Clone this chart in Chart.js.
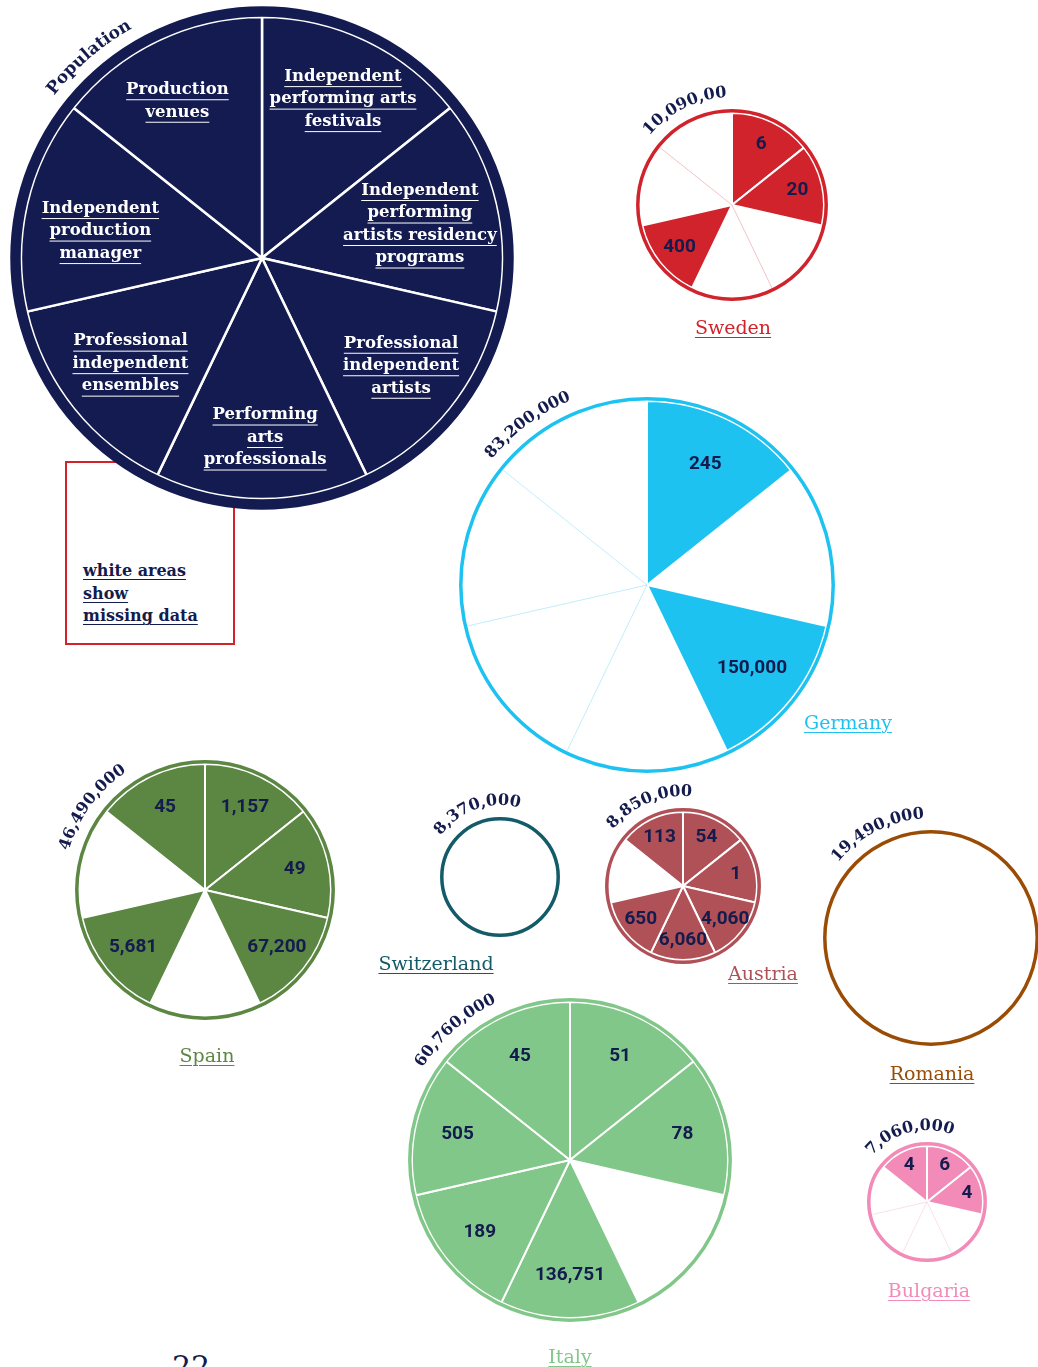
<!DOCTYPE html>
<html>
<head>
<meta charset="utf-8">
<script src="https://cdn.jsdelivr.net/npm/chart.js@4/dist/chart.umd.min.js"></script>
<style>
  html, body { margin: 0; padding: 0; background: #fff; }
  body { position: relative; width: 1038px; height: 1367px; overflow: hidden; font-family: "DejaVu Serif", serif; }
  canvas { position: absolute; }
  .name { position: absolute; transform: translate(-50%, -50%); font-size: 19px; text-decoration: underline; text-underline-offset: 3px; text-decoration-thickness: 1px; white-space: nowrap; }
  .note { position: absolute; left: 65px; top: 461px; width: 166px; height: 180px; border: 2px solid #d2232b; }
  .note div { position: absolute; left: 16px; top: 97px; font-weight: bold; font-size: 16px; line-height: 22.5px; color: #141b4d; text-decoration: underline; text-underline-offset: 3px; }
  .page { position: absolute; left: 172px; top: 1349px; font-size: 30px; color: #141b4d; }
</style>
</head>
<body>
<div class="note"><div>white areas<br>show<br>missing data</div></div>
<div class="page">22</div>

<script>
// categories, clockwise from the top
const categories = [
  'Independent performing arts festivals',
  'Independent performing artists residency programs',
  'Professional independent artists',
  'Performing arts professionals',
  'Professional independent ensembles',
  'Independent production manager',
  'Production venues'
];
const categoryLines = [
  ['Independent', 'performing arts', 'festivals'],
  ['Independent', 'performing', 'artists residency', 'programs'],
  ['Professional', 'independent', 'artists'],
  ['Performing', 'arts', 'professionals'],
  ['Professional', 'independent', 'ensembles'],
  ['Independent', 'production', 'manager'],
  ['Production', 'venues']
];

const countries = ['Sweden', 'Germany', 'Spain', 'Switzerland', 'Austria', 'Romania', 'Italy', 'Bulgaria'];
const populations = ['10,090,00', '83,200,000', '46,490,000', '8,370,000', '8,850,000', '19,490,000', '60,760,000', '7,060,000'];

// null = missing data (white slice)
const sweden      = [6, 20, null, null, 400, null, null];
const germany     = [245, null, 150000, null, null, null, null];
const spain       = [1157, 49, 67200, null, 5681, null, 45];
const switzerland = [null, null, null, null, null, null, null];
const austria     = [54, 1, 4060, 6060, 650, null, 113];
const romania     = [null, null, null, null, null, null, null];
const italy       = [51, 78, null, 136751, 189, 505, 45];
const bulgaria    = [6, 4, null, null, null, null, 4];
const values = [sweden, germany, spain, switzerland, austria, romania, italy, bulgaria];

const colors = ['#d1232b', '#1dc2f1', '#5b8742', '#135b69', '#b05057', '#9a4c05', '#82c78a', '#f28bb8'];

// layout: centre, ring radius, start angle of the population text, name position
const layout = [
  { cx: 732, cy: 205, r: 96,  start: -50, nx: 733, ny: 327 },
  { cx: 647, cy: 585, r: 188, start: -51, nx: 848, ny: 722 },
  { cx: 205, cy: 890, r: 130, start: -74, nx: 207, ny: 1055 },
  { cx: 500, cy: 877, r: 60,  start: -55, nx: 436, ny: 963 },
  { cx: 683, cy: 886, r: 78,  start: -51, nx: 763, ny: 973 },
  { cx: 931, cy: 938, r: 108, start: -51, nx: 932, ny: 1073 },
  { cx: 570, cy: 1160, r: 162, start: -58, nx: 570, ny: 1356 },
  { cx: 927, cy: 1202, r: 60, start: -50, nx: 929, ny: 1290 }
];
// legend captions: radius factor and angle nudge (degrees) from the slice middle
const captionRadius = [0.74, 0.67, 0.73, 0.745, 0.70, 0.68, 0.74];
const captionNudge = [1.3, 0.8, -0.8, -1, -0.2, -3.4, -2.6];

const NAVY = '#141b4d';
const PIE_NAVY = '#131b50';
const sliceWeight = categories.map(() => 1);

function hexAlpha(hex, a) {
  const n = parseInt(hex.slice(1), 16);
  return `rgba(${n >> 16},${(n >> 8) & 255},${n & 255},${a})`;
}

// text along a circle, angle in degrees from the top, clockwise
function drawArcText(ctx, text, cx, cy, radius, startDeg) {
  let a = startDeg * Math.PI / 180;
  ctx.textAlign = 'center';
  ctx.textBaseline = 'alphabetic';
  for (const ch of text) {
    const w = ctx.measureText(ch).width;
    const mid = a + (w / 2) / radius;
    ctx.save();
    ctx.translate(cx + radius * Math.sin(mid), cy - radius * Math.cos(mid));
    ctx.rotate(mid);
    ctx.fillText(ch, 0, 0);
    ctx.restore();
    a += w / radius;
  }
}

function makeCanvas(cx, cy, half) {
  const c = document.createElement('canvas');
  c.width = half * 2;
  c.height = half * 2;
  c.style.left = (cx - half) + 'px';
  c.style.top = (cy - half) + 'px';
  document.body.appendChild(c);
  return c;
}

const baseOptions = {
  responsive: false,
  animation: false,
  events: [],
  plugins: { legend: { display: false }, tooltip: { enabled: false } }
};

// ---- legend pie ----
const legendCanvas = makeCanvas(262, 258, 300);
new Chart(legendCanvas.getContext('2d'), {
  type: 'pie',
  data: {
    labels: categories,
    datasets: [{
      data: sliceWeight,
      backgroundColor: PIE_NAVY,
      borderColor: '#fff',
      borderWidth: 2.5
    }]
  },
  options: { ...baseOptions, radius: 241 },
  plugins: [{
    id: 'legendDecor',
    afterDatasetsDraw(chart) {
      const ctx = chart.ctx;
      const arcs = chart.getDatasetMeta(0).data;
      const { x, y, outerRadius } = arcs[0];
      ctx.save();
      ctx.strokeStyle = PIE_NAVY;
      ctx.lineWidth = 10.5;
      ctx.beginPath();
      ctx.arc(x, y, outerRadius + 5.5, 0, Math.PI * 2);
      ctx.stroke();

      ctx.font = 'bold 16.5px "DejaVu Serif"';
      ctx.fillStyle = '#fff';
      ctx.strokeStyle = '#fff';
      ctx.lineWidth = 1;
      arcs.forEach((arc, i) => {
        const mid = (arc.startAngle + arc.endAngle) / 2 + captionNudge[i] * Math.PI / 180;
        const px = x + Math.cos(mid) * outerRadius * captionRadius[i];
        const py = y + Math.sin(mid) * outerRadius * captionRadius[i];
        const lines = categoryLines[i];
        const lh = 22.5;
        const top = py - (lines.length - 1) * lh / 2;
        ctx.textAlign = 'center';
        ctx.textBaseline = 'middle';
        lines.forEach((ln, j) => {
          const ly = top + j * lh;
          ctx.fillText(ln, px, ly);
          const w = ctx.measureText(ln).width;
          ctx.beginPath();
          ctx.moveTo(px - w / 2, ly + 10);
          ctx.lineTo(px + w / 2, ly + 10);
          ctx.stroke();
        });
      });

      ctx.fillStyle = NAVY;
      ctx.font = 'bold 17px "DejaVu Serif"';
      drawArcText(ctx, 'Population', x, y, outerRadius + 23, -52);
      ctx.restore();
    }
  }]
});

// ---- country pies ----
countries.forEach((country, k) => {
  const L = layout[k];
  const col = colors[k];
  const vals = values[k];
  const canvas = makeCanvas(L.cx, L.cy, L.r + 45);

  new Chart(canvas.getContext('2d'), {
    type: 'pie',
    data: {
      labels: categories,
      datasets: [{
        data: sliceWeight,
        backgroundColor: vals.map(v => v == null ? '#fff' : col),
        borderColor: '#fff',
        borderWidth: vals.map(v => v == null ? 0 : 2)
      }]
    },
    options: { ...baseOptions, radius: L.r - 4 },
    plugins: [{
      id: 'countryDecor',
      afterDatasetsDraw(chart) {
        const ctx = chart.ctx;
        const arcs = chart.getDatasetMeta(0).data;
        const { x, y, outerRadius } = arcs[0];
        ctx.save();

        // faint spokes between two missing slices
        const allMissing = vals.every(v => v == null);
        if (!allMissing) {
          ctx.strokeStyle = hexAlpha(col, 0.35);
          ctx.lineWidth = 0.8;
          arcs.forEach((arc, i) => {
            const prev = (i + vals.length - 1) % vals.length;
            if (vals[i] == null && vals[prev] == null) {
              ctx.beginPath();
              ctx.moveTo(x, y);
              ctx.lineTo(x + Math.cos(arc.startAngle) * outerRadius, y + Math.sin(arc.startAngle) * outerRadius);
              ctx.stroke();
            }
          });
        }

        // outline ring
        ctx.strokeStyle = col;
        ctx.lineWidth = 3.5;
        ctx.beginPath();
        ctx.arc(x, y, outerRadius + 2.2, 0, Math.PI * 2);
        ctx.stroke();

        // slice values
        ctx.font = 'bold 19px Roboto';
        ctx.fillStyle = NAVY;
        ctx.textAlign = 'center';
        ctx.textBaseline = 'middle';
        arcs.forEach((arc, i) => {
          if (vals[i] == null) return;
          const mid = (arc.startAngle + arc.endAngle) / 2;
          ctx.fillText(vals[i].toLocaleString('en-US'),
            x + Math.cos(mid) * outerRadius * 0.73,
            y + Math.sin(mid) * outerRadius * 0.73);
        });

        // population along the ring
        ctx.font = 'bold 16px "DejaVu Serif"';
        drawArcText(ctx, populations[k], x, y, outerRadius + 16, L.start);
        ctx.restore();
      }
    }]
  });

  const name = document.createElement('div');
  name.className = 'name';
  name.textContent = country;
  name.style.left = L.nx + 'px';
  name.style.top = L.ny + 'px';
  name.style.color = col;
  document.body.appendChild(name);
});
</script>
</body>
</html>
